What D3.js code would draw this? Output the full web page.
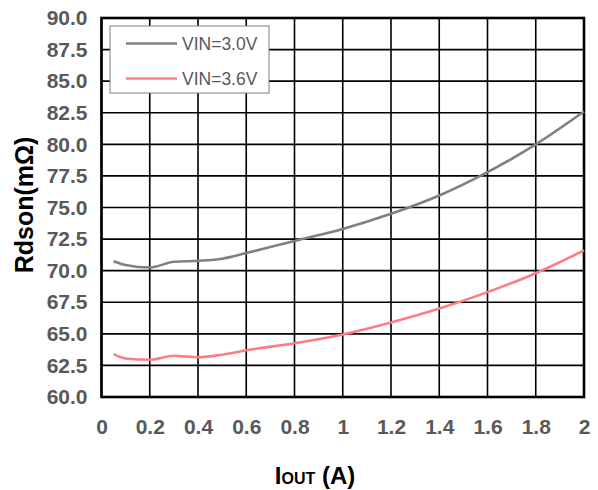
<!DOCTYPE html>
<html><head><meta charset="utf-8">
<script src="https://cdn.jsdelivr.net/npm/d3@7"></script>
<style>body{margin:0;background:#fff}svg{display:block}</style>
</head><body>
<script>
const seriesNames = ["VIN=3.0V", "VIN=3.6V"];
const iout = [0.05, 0.1, 0.2, 0.3, 0.4, 0.5, 0.6, 0.8, 1.0, 1.2, 1.4, 1.6, 1.8, 2.0];
const rdson30 = [70.75, 70.45, 70.25, 70.7, 70.78, 70.95, 71.4, 72.35, 73.3, 74.5, 75.95, 77.8, 80.0, 82.6];
const rdson36 = [63.4, 63.05, 62.95, 63.27, 63.15, 63.35, 63.7, 64.25, 64.95, 65.9, 67.0, 68.3, 69.8, 71.6];
const xTicks = [0, 0.2, 0.4, 0.6, 0.8, 1, 1.2, 1.4, 1.6, 1.8, 2];
const yTicks = [60, 62.5, 65, 67.5, 70, 72.5, 75, 77.5, 80, 82.5, 85, 87.5, 90];
const colors = ["#808080", "#FF7C80"];

const W = 598, H = 490;
const m = {l: 101.5, r: 584, t: 18, b: 397};
const svg = d3.select("body").append("svg").attr("width", W).attr("height", H);
const x = d3.scaleLinear().domain([0, 2]).range([m.l, m.r]);
const y = d3.scaleLinear().domain([60, 90]).range([m.b, m.t]);
const FF = "Liberation Sans, Arial, sans-serif";

// grid
const g = svg.append("g");
g.selectAll("line.v").data(xTicks).join("line")
  .attr("x1", d => x(d)).attr("x2", d => x(d)).attr("y1", m.t).attr("y2", m.b)
  .attr("stroke", "#000").attr("stroke-width", 1.6);
g.selectAll("line.h").data(yTicks).join("line")
  .attr("y1", d => y(d)).attr("y2", d => y(d)).attr("x1", m.l).attr("x2", m.r)
  .attr("stroke", "#000").attr("stroke-width", 1.6);
svg.append("rect").attr("x", m.l).attr("y", m.t).attr("width", m.r - m.l).attr("height", m.b - m.t)
  .attr("fill", "none").attr("stroke", "#000").attr("stroke-width", 2.6);

// axes labels via d3 axes
const yAxis = svg.append("g").attr("transform", `translate(${m.l},0)`)
  .call(d3.axisLeft(y).tickValues(yTicks).tickFormat(d3.format(".1f")).tickSize(0).tickPadding(14));
const xAxis = svg.append("g").attr("transform", `translate(0,${m.b})`)
  .call(d3.axisBottom(x).tickValues(xTicks).tickFormat(d => String(d)).tickSize(0).tickPadding(22));
yAxis.select(".domain").remove();
xAxis.select(".domain").remove();
yAxis.selectAll("text").attr("font-family", FF).attr("font-size", 21).attr("font-weight", "bold").attr("fill", "#595959");
xAxis.selectAll("text").attr("font-family", FF).attr("font-size", 21).attr("font-weight", "bold").attr("fill", "#595959");

// lines
const line = d3.line().x(d => x(d[0])).y(d => y(d[1])).curve(d3.curveMonotoneX);
[rdson30, rdson36].forEach((vals, i) => {
  svg.append("path").datum(iout.map((v, j) => [v, vals[j]]))
    .attr("d", line).attr("fill", "none").attr("stroke", colors[i]).attr("stroke-width", 2.6);
});

// legend
const lg = svg.append("g");
lg.append("rect").attr("x", 110).attr("y", 26).attr("width", 159).attr("height", 67)
  .attr("fill", "#fff").attr("stroke", "#7f7f7f").attr("stroke-width", 1);
seriesNames.forEach((n, i) => {
  const yy = 43.5 + i * 35;
  lg.append("line").attr("x1", 126).attr("x2", 177).attr("y1", yy).attr("y2", yy)
    .attr("stroke", colors[i]).attr("stroke-width", 2.6);
  lg.append("text").attr("x", 182).attr("y", yy + 6.5).text(n)
    .attr("font-family", FF).attr("font-size", 17.5).attr("fill", "#595959");
});

// axis titles
const xt = svg.append("text").attr("x", 315).attr("y", 484).attr("text-anchor", "middle")
  .attr("font-family", FF).attr("font-weight", "bold").attr("fill", "#000");
xt.append("tspan").attr("font-size", 24).text("I");
xt.append("tspan").attr("font-size", 16).text("OUT");
xt.append("tspan").attr("font-size", 24).text(" (A)");

svg.append("text").attr("transform", "translate(33,205) rotate(-90)").attr("text-anchor", "middle")
  .attr("font-family", FF).attr("font-weight", "bold")
  .attr("font-size", 25).attr("fill", "#000").text("Rdson(mΩ)");
</script>
</body></html>
